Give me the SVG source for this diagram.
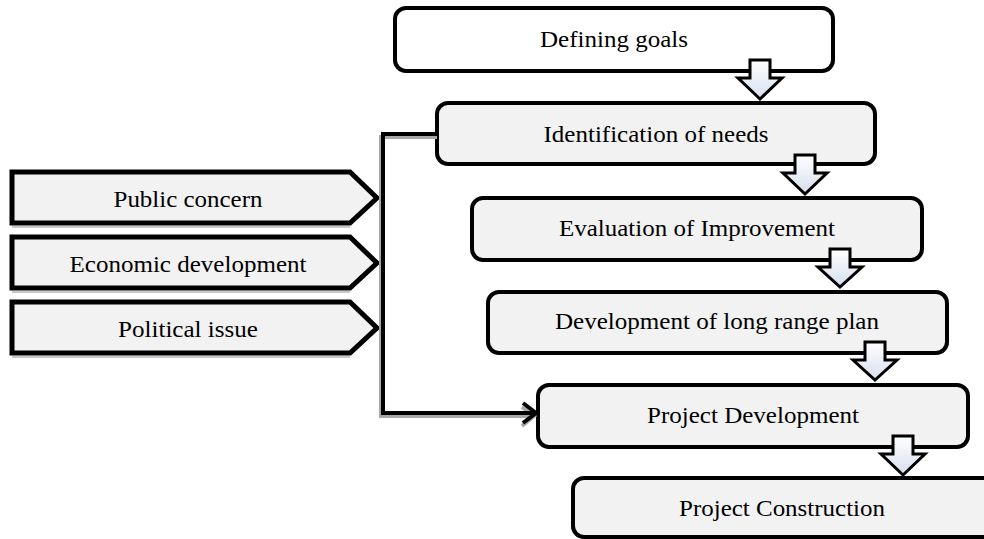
<svg xmlns="http://www.w3.org/2000/svg" width="984" height="539" viewBox="0 0 984 539">
<style>
.box{stroke:#000;stroke-width:4;fill:#f2f2f2}
.white{fill:#fff}
.tag{stroke:#000;stroke-width:5;fill:#f2f2f2;stroke-linejoin:miter}
.tshadow{stroke:#c8c8c8;stroke-width:2}
text{font-family:'Liberation Serif',serif;font-size:23px;fill:#000;text-anchor:middle}
.blk{stroke:#000;stroke-width:3;fill:url(#g);stroke-linejoin:miter}
.conn{fill:none;stroke:#000;stroke-width:4;stroke-linejoin:miter}
.csh{fill:none;stroke:#a8a8a8;stroke-width:4}
</style>
<defs>
<linearGradient id="g" x1="0" y1="0" x2="0" y2="1">
<stop offset="0" stop-color="#ffffff"/>
<stop offset="1" stop-color="#d6dfee"/>
</linearGradient>
</defs>
<rect width="984" height="539" fill="#fff"/>

<g id="public-concern">
<line class="tshadow" x1="12" y1="227" x2="350" y2="227"/>
<polygon class="tag" points="12,172 350,172 377,198 350,223 12,223"/>
<text font-family="Liberation Serif" x="188" y="207" textLength="149" lengthAdjust="spacingAndGlyphs">Public concern</text>
</g>
<g id="economic-development">
<line class="tshadow" x1="12" y1="292" x2="350" y2="292"/>
<polygon class="tag" points="12,237 350,237 377,263 350,288 12,288"/>
<text font-family="Liberation Serif" x="188" y="272" textLength="237" lengthAdjust="spacingAndGlyphs">Economic development</text>
</g>
<g id="political-issue">
<line class="tshadow" x1="12" y1="357" x2="350" y2="357"/>
<polygon class="tag" points="12,302 350,302 377,328 350,353 12,353"/>
<text font-family="Liberation Serif" x="188" y="337" textLength="140" lengthAdjust="spacingAndGlyphs">Political issue</text>
</g>

<g id="defining-goals">
<rect class="box white" x="395" y="8" width="438" height="63" rx="11"/>
<text font-family="Liberation Serif" x="614" y="47" textLength="148" lengthAdjust="spacingAndGlyphs">Defining goals</text>
</g>
<g id="identification-of-needs">
<rect class="box" x="437" y="103" width="438" height="61" rx="11"/>
<text font-family="Liberation Serif" x="656" y="142" textLength="225" lengthAdjust="spacingAndGlyphs">Identification of needs</text>
</g>
<g id="evaluation-of-improvement">
<rect class="box" x="472" y="198" width="450" height="62" rx="11"/>
<text font-family="Liberation Serif" x="697" y="236" textLength="276" lengthAdjust="spacingAndGlyphs">Evaluation of Improvement</text>
</g>
<g id="long-range-plan">
<rect class="box" x="488" y="292" width="459" height="61" rx="11"/>
<text font-family="Liberation Serif" x="717" y="329" textLength="324" lengthAdjust="spacingAndGlyphs">Development of long range plan</text>
</g>
<g id="project-development">
<rect class="box" x="538" y="385" width="430" height="62" rx="11"/>
<text font-family="Liberation Serif" x="753" y="423" textLength="212" lengthAdjust="spacingAndGlyphs">Project Development</text>
</g>
<g id="project-construction">
<rect class="box" x="573" y="478" width="440" height="59" rx="11"/>
<text font-family="Liberation Serif" x="782" y="516" textLength="206" lengthAdjust="spacingAndGlyphs">Project Construction</text>
</g>

<g id="connectors">
<path class="csh" d="M437,137 H381 V416 H534"/>
<path class="csh" d="M522,407 L534,416 L522,426"/>
<path class="conn" d="M437,134 H383 V413 H535"/>
<path class="conn" d="M523,403 L536,413 L523,423"/>
<polygon class="blk" points="750,60 770,60 770,78 782,78 760,99 738,78 750,78"/>
<polygon class="blk" points="795,155 815,155 815,173 827,173 805,194 783,173 795,173"/>
<polygon class="blk" points="830,249 850,249 850,267 862,267 840,287 818,267 830,267"/>
<polygon class="blk" points="865,342 885,342 885,360 897,360 875,380 853,360 865,360"/>
<polygon class="blk" points="893,436 913,436 913,454 925,454 903,475 881,454 893,454"/>
</g>
</svg>
